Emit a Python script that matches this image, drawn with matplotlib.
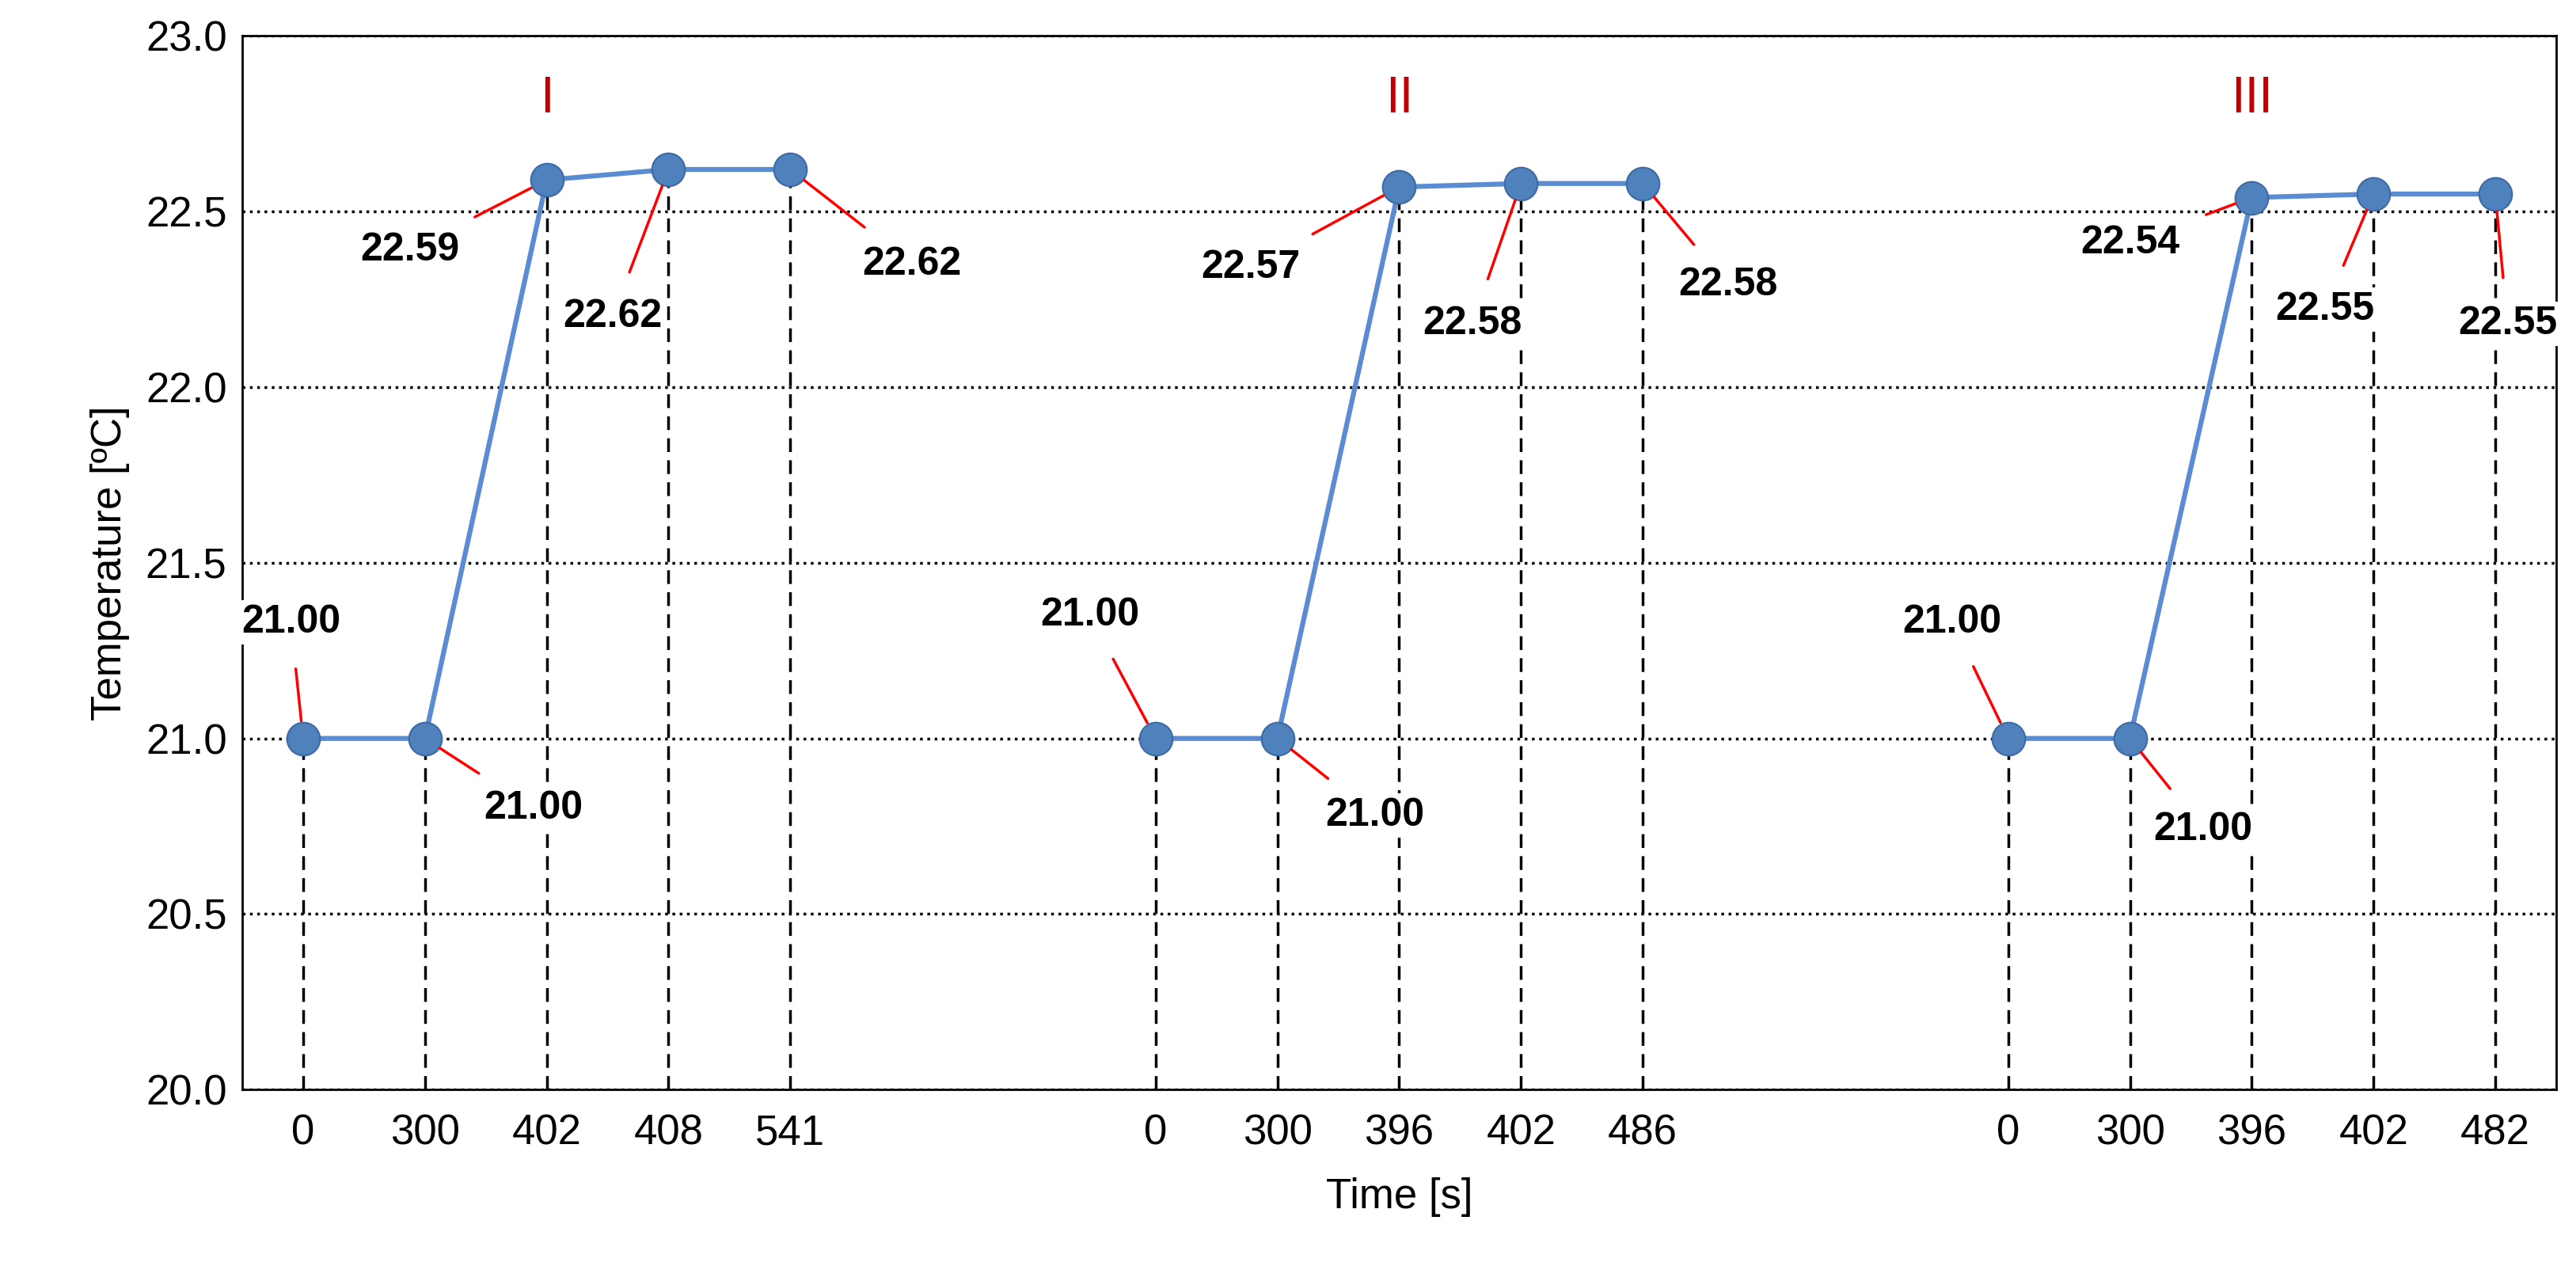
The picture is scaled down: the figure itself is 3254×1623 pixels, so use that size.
import matplotlib.pyplot as plt
import numpy as np

plt.rcParams['font.family'] = ['Liberation Sans', 'DejaVu Sans']

# three runs, five points each; x positions are slots on a categorical axis
slots = [[0, 1, 2, 3, 4], [7, 8, 9, 10, 11], [14, 15, 16, 17, 18]]
tick_labels = [["0", "300", "402", "408", "541"],
               ["0", "300", "396", "402", "486"],
               ["0", "300", "396", "402", "482"]]
temps = [[21.00, 21.00, 22.59, 22.62, 22.62],
         [21.00, 21.00, 22.57, 22.58, 22.58],
         [21.00, 21.00, 22.54, 22.55, 22.55]]
run_names = ["I", "II", "III"]

# label text positions (x, y) in data coords, one per point
label_pos = [[(-0.1, 21.33), (1.89, 20.80), (0.88, 22.39), (2.54, 22.20), (5.0, 22.35)],
             [(6.46, 21.35), (8.8, 20.78), (7.78, 22.34), (9.6, 22.18), (11.7, 22.29)],
             [(13.54, 21.33), (15.6, 20.74), (15.0, 22.41), (16.6, 22.22), (18.1, 22.18)]]

fig = plt.figure(figsize=(32.55, 16.23), dpi=100)
ax = fig.add_axes([0.094, 0.152, 0.898, 0.82])

for gx, gy, gl in zip(slots, temps, label_pos):
    ax.vlines(gx, 20.0, gy, colors='black', linestyles=(0, (5, 3)), linewidth=2.5, zorder=1)
    ax.plot(gx, gy, '-', color='#5b8bd0', linewidth=4.5, zorder=3)
    ax.plot(gx, gy, 'o', color='#4f81bd', markersize=30, markeredgecolor='#3e6aa3',
            markeredgewidth=1.5, zorder=4)
    for x, y, (tx, ty) in zip(gx, gy, gl):
        ax.annotate(f"{y:.2f}", xy=(x, y), xytext=(tx, ty), ha='center', va='center',
                    fontsize=36, fontweight='bold', color='black', zorder=5,
                    bbox=dict(boxstyle='square,pad=0.1', fc='white', ec='none'),
                    arrowprops=dict(arrowstyle='-', color='red', lw=2.5, shrinkA=22, shrinkB=16))

for gx, name in zip(slots, run_names):
    ax.text(gx[2], 22.82, name, ha='center', va='center', fontsize=46, color='#c00000')

ax.set_xlim(-0.5, 18.5)
ax.set_ylim(20.0, 23.0)
ax.set_yticks(np.arange(20.0, 23.01, 0.5))
ax.set_yticklabels([f"{v:.1f}" for v in np.arange(20.0, 23.01, 0.5)], fontsize=38)
ax.set_xticks([x for g in slots for x in g])
ax.set_xticklabels([t for g in tick_labels for t in g], fontsize=38)
ax.tick_params(axis='x', length=0, pad=22)
ax.tick_params(axis='y', length=0, pad=14)
ax.yaxis.grid(True, linestyle=':', color='black', linewidth=2.5)
for s in ax.spines.values():
    s.set_linewidth(2)
ax.set_xlabel("Time [s]", fontsize=38, labelpad=22)
ax.set_ylabel("Temperature [ºC]", fontsize=38, labelpad=14)

fig.savefig("out.png", dpi=100)
